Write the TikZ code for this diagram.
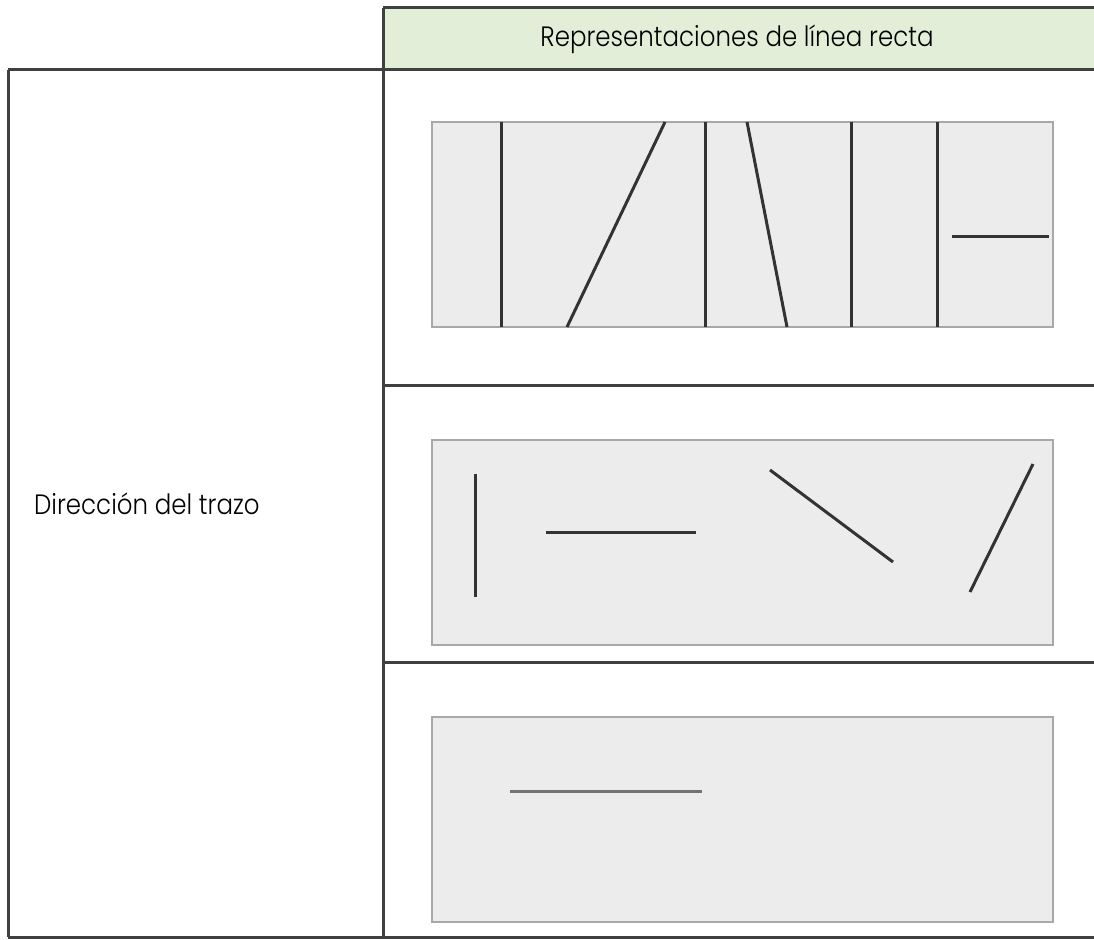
\documentclass[tikz,border=0pt]{standalone}
\usepackage{fontspec}
\newfontfamily\hfont[FakeStretch=0.875]{Poppins Light}
\definecolor{frame}{HTML}{404040}
\definecolor{hdr}{HTML}{E3EED9}
\definecolor{pfill}{HTML}{ECECEC}
\definecolor{pline}{HTML}{A8A8A8}
\definecolor{stroke}{HTML}{333333}
\tikzset{
  framel/.style={draw=frame,line width=3pt},
  panel/.style={draw=pline,fill=pfill,line width=2.2pt},
  seg/.style={draw=stroke,line width=3pt},
  lbl/.style={font=\hfont\fontsize{28}{32}\selectfont,text=black,inner sep=0pt}
}
\begin{document}
\begin{tikzpicture}[x=1pt,y=-1pt]
\useasboundingbox (0,0) rectangle (1094,939);
% header
\fill[hdr] (383,8) rectangle (1094,70);
\draw[framel] (383,8) -- (1094,8);
\draw[framel] (8,70) -- (1094,70);
\node[lbl] (title) at (737,39) {Representaciones de línea recta};
% left box
\draw[framel] (8,70) -- (8,937);
\draw[framel] (383,8) -- (383,939);
\draw[framel] (383,385) -- (1094,385);
\draw[framel] (383,662) -- (1094,662);
\draw[framel] (8,937) -- (1094,937);
\node[lbl,anchor=west] (dir) at (34,504) {Dirección del trazo};
% panel 1
\draw[panel] (432,122) rectangle (1053,327);
\draw[seg] (501,122) -- (501,327);
\draw[seg] (567,327) -- (665,122);
\draw[seg] (705,122) -- (705,327);
\draw[seg] (747,122) -- (787,327);
\draw[seg] (851,122) -- (851,327);
\draw[seg] (937,122) -- (937,327);
\draw[seg] (952,236) -- (1049,236);
% panel 2
\draw[panel] (432,440) rectangle (1053,645);
\draw[seg] (475,474) -- (475,597);
\draw[seg] (546,532) -- (696,532);
\draw[seg] (770,470) -- (893,562);
\draw[seg] (970,592) -- (1033,464);
% panel 3
\draw[panel] (432,717) rectangle (1053,922);
\draw[seg,draw=black!55] (510,791) -- (702,791);
\end{tikzpicture}
\end{document}
